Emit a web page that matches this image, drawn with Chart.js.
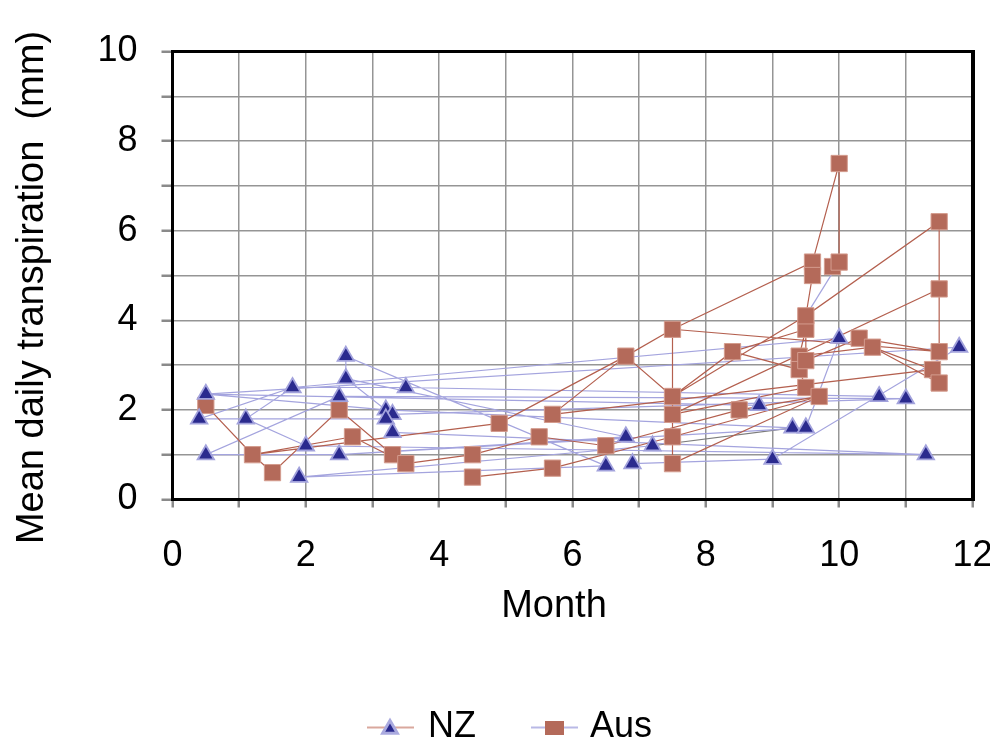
<!DOCTYPE html>
<html>
<head>
<meta charset="utf-8">
<title>Mean daily transpiration by month</title>
<script src="https://cdn.jsdelivr.net/npm/chart.js@4.4.0/dist/chart.umd.min.js"></script>
<style>
  html, body { margin: 0; padding: 0; background: #ffffff; }
  canvas { display: block; }
</style>
</head>
<body>
<canvas id="chart" width="990" height="740"></canvas>
<script>
// Mean daily transpiration (mm) against month of measurement, NZ and Australian sites.
const seriesNames = ['NZ', 'Aus'];

const nzMonth = [0.4, 0.5, 0.5, 1.1, 1.8, 2.0, 1.9, 2.5, 2.5, 2.6, 2.6, 3.2, 3.3, 3.2, 3.3,
                 3.5, 6.5, 6.8, 6.9, 7.2, 8.8, 9.0, 9.3, 9.5, 10.0, 10.6, 11.0, 11.3, 11.8];
const nzMM    = [1.8, 2.35, 1.0, 1.8, 2.5, 1.2, 0.5, 2.3, 1.0, 3.2, 2.7, 2.0, 1.9, 1.8, 1.5,
                 2.5, 0.75, 1.4, 0.8, 1.2, 2.1, 0.9, 1.6, 1.6, 3.6, 2.3, 2.25, 1.0, 3.4];

const ausMonth = [0.5, 1.2, 1.5, 2.5, 2.7, 3.3, 3.5, 4.5, 4.5, 4.9, 5.5, 5.7, 5.7, 6.5, 6.8,
                  7.5, 7.5, 7.5, 7.5, 7.5, 8.4, 8.5, 9.4, 9.4, 9.5, 9.5, 9.5, 9.5, 9.6, 9.6,
                  9.7, 9.9, 10.0, 10.0, 10.3, 10.5, 11.4, 11.5, 11.5, 11.5, 11.5];
const ausMM    = [2.1, 1.0, 0.6, 2.0, 1.4, 1.0, 0.8, 1.0, 0.5, 1.7, 1.4, 1.9, 0.7, 1.2, 3.2,
                  3.8, 2.3, 1.9, 1.4, 0.8, 3.3, 2.0, 3.2, 2.9, 3.1, 3.8, 4.1, 2.5, 5.3, 5.0,
                  2.3, 5.2, 5.3, 7.5, 3.6, 3.4, 2.9, 6.2, 4.7, 3.3, 2.6];

// Runs of sample indices that are joined by connecting lines.
const nzTraces = [
  [16, 9, 10, 11, 22],
  [13, 0, 4, 3, 5, 27, 14],
  [26, 7, 2, 8, 23, 24, 4, 15, 25],
  [20, 1, 28, 21, 18],
  [1, 11],
  [17, 10],
  [8, 17],
  [16, 6, 19],
  [12, 26]
];
const nzGreyTraces = [[19, 22]];

const ausTraces = [
  [0, 1, 2, 3, 5],
  [1, 4, 6, 7, 10, 13, 21, 30, 19],
  [1, 9, 14, 11, 36, 35, 22, 25, 20, 16],
  [14, 15, 16, 17, 18, 19],
  [14, 16],
  [8, 12, 18, 30],
  [15, 28, 33, 32],
  [15, 39, 38, 37, 26, 29, 28],
  [26, 25, 24, 34, 39],
  [26, 16],
  [17, 38],
  [35, 40],
  [20, 23, 27, 17]
];
const ausBlueTraces = [[32, 26]];

const xTickLabels = [0, 2, 4, 6, 8, 10, 12];
const yTickLabels = [0, 2, 4, 6, 8, 10];
const xTitle = 'Month';
const yTitle = 'Mean daily transpiration  (mm)';

// Colours
const NZ_FILL = '#2a2a8e';
const NZ_EDGE = '#a2a2dc';
const NZ_LINE = '#a4a4de';
const AUS_FILL = '#b46a5a';
const AUS_EDGE = '#d49c8e';
const AUS_LINE = '#b4604f';
const GREY_LINE = '#7c7c7c';
const FONT = '"Liberation Sans", Arial, Helvetica, sans-serif';

function points(months, values) {
  return months.map((m, i) => ({ x: m, y: values[i] }));
}

// Concatenate runs, separating them with empty points so the line breaks.
function traceData(months, values, traces) {
  const out = [];
  traces.forEach((run, k) => {
    if (k > 0) out.push({ x: months[run[0]], y: null });
    run.forEach(i => out.push({ x: months[i], y: values[i] }));
  });
  return out;
}

function lineSet(data, color, width, order) {
  return {
    data, showLine: true, borderColor: color, borderWidth: width,
    pointRadius: 0, pointHoverRadius: 0, spanGaps: false, tension: 0, order
  };
}

const frameAndText = {
  id: 'frameAndText',
  beforeDatasetsDraw(chart) {
    const { ctx, chartArea: a } = chart;
    ctx.save();
    ctx.strokeStyle = '#000000';
    ctx.lineWidth = 3;
    ctx.strokeRect(a.left, a.top, a.right - a.left, a.bottom - a.top);
    ctx.lineWidth = 4;
    ctx.beginPath();
    ctx.moveTo(a.right + 0.5, a.top - 1.5);
    ctx.lineTo(a.right + 0.5, a.bottom + 1.5);
    ctx.stroke();
    ctx.restore();
  },
  afterDraw(chart) {
    const { ctx } = chart;
    ctx.save();
    ctx.fillStyle = '#000000';
    ctx.font = '38px ' + FONT;
    ctx.textAlign = 'center';
    ctx.textBaseline = 'alphabetic';
    ctx.fillText(xTitle, 554, 617);
    ctx.translate(43, 287.5);
    ctx.rotate(-Math.PI / 2);
    ctx.fillText(yTitle, 0, 0);
    ctx.restore();

    // Legend: sample line with marker, then the series name
    const ly = 727.5;
    ctx.save();
    ctx.lineWidth = 2;
    ctx.strokeStyle = '#d9a89d';
    ctx.beginPath(); ctx.moveTo(367, ly); ctx.lineTo(414, ly); ctx.stroke();
    ctx.strokeStyle = '#b9b9e6';
    ctx.beginPath(); ctx.moveTo(531, ly); ctx.lineTo(578, ly); ctx.stroke();

    // triangle
    const r = 8.5, cx = 390, cy = 729;
    ctx.beginPath();
    ctx.moveTo(cx, cy - r);
    ctx.lineTo(cx + r * Math.sin(2 * Math.PI / 3), cy - r * Math.cos(2 * Math.PI / 3));
    ctx.lineTo(cx + r * Math.sin(4 * Math.PI / 3), cy - r * Math.cos(4 * Math.PI / 3));
    ctx.closePath();
    ctx.fillStyle = NZ_FILL;
    ctx.fill();
    ctx.lineWidth = 3;
    ctx.strokeStyle = '#aaaadf';
    ctx.stroke();
    // square
    ctx.fillStyle = AUS_FILL;
    ctx.fillRect(545, 721, 19, 14);

    ctx.fillStyle = '#000000';
    ctx.font = '36px ' + FONT;
    ctx.textAlign = 'left';
    ctx.textBaseline = 'alphabetic';
    ctx.fillText(seriesNames[0], 428, 737);
    ctx.fillText(seriesNames[1], 590, 737);
    ctx.restore();
  }
};

new Chart(document.getElementById('chart'), {
  type: 'scatter',
  data: {
    datasets: [
      {
        label: seriesNames[0], data: points(nzMonth, nzMM), showLine: false,
        pointStyle: 'triangle', pointRadius: 9.5, pointHoverRadius: 9.5,
        backgroundColor: NZ_FILL, borderColor: NZ_EDGE, borderWidth: 1.8, order: 0
      },
      {
        label: seriesNames[1], data: points(ausMonth, ausMM), showLine: false,
        pointStyle: 'rect', pointRadius: 11.5, pointHoverRadius: 11.5,
        backgroundColor: AUS_FILL, borderColor: AUS_EDGE, borderWidth: 1, order: 1
      },
      lineSet(traceData(nzMonth, nzMM, nzTraces), NZ_LINE, 1.2, 3),
      lineSet(traceData(nzMonth, nzMM, nzGreyTraces), GREY_LINE, 1.2, 3),
      lineSet(traceData(ausMonth, ausMM, ausBlueTraces), NZ_LINE, 1.2, 3),
      lineSet(traceData(ausMonth, ausMM, ausTraces), AUS_LINE, 1.2, 2)
    ]
  },
  options: {
    responsive: false,
    animation: false,
    devicePixelRatio: 1,
    events: [],
    layout: { padding: { top: 51.5, right: 17.5, left: 0, bottom: 0 } },
    plugins: { legend: { display: false }, tooltip: { enabled: false } },
    scales: {
      x: {
        type: 'linear', min: 0, max: 12,
        afterFit(scale) {
          scale.height = 240.5;
          scale.paddingLeft = 0;
          scale.paddingRight = 0;
        },
        border: { display: false },
        grid: { color: '#959595', lineWidth: 1.5, drawTicks: true, tickLength: 8,
                tickColor: '#8a8a8a', tickWidth: 2.5 },
        ticks: {
          stepSize: 1, autoSkip: false, maxRotation: 0, padding: 27, color: '#000000',
          font: { family: FONT, size: 36 },
          callback: v => (xTickLabels.includes(v) ? String(v) : '')
        }
      },
      y: {
        type: 'linear', min: 0, max: 10,
        afterFit(scale) {
          scale.width = 172.5;
          scale.paddingTop = 0;
          scale.paddingBottom = 0;
        },
        border: { display: false },
        grid: { color: '#959595', lineWidth: 1.5, drawTicks: true, tickLength: 11,
                tickColor: '#8a8a8a', tickWidth: 2.5 },
        ticks: {
          stepSize: 1, autoSkip: false, padding: 24, color: '#000000',
          font: { family: FONT, size: 36 },
          callback: v => (yTickLabels.includes(v) ? String(v) : '')
        }
      }
    }
  },
  plugins: [frameAndText]
});
</script>
</body>
</html>
